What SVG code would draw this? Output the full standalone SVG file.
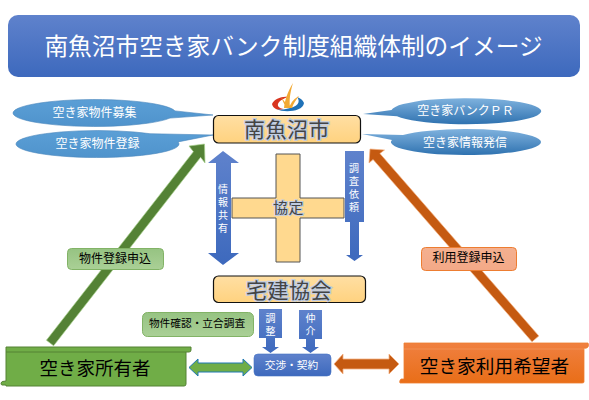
<svg xmlns="http://www.w3.org/2000/svg" width="589" height="400" viewBox="0 0 589 400">
<defs>
<linearGradient id="gB" x1="0" y1="0" x2="0" y2="1"><stop offset="0" stop-color="#5F82CC"/><stop offset="1" stop-color="#3D69BD"/></linearGradient>
<linearGradient id="gE" x1="0" y1="0" x2="0" y2="1"><stop offset="0" stop-color="#5B9FD6"/><stop offset="1" stop-color="#4F93CC"/></linearGradient>
<linearGradient id="gE2" x1="0" y1="0" x2="0" y2="1"><stop offset="0" stop-color="#7FB2DE"/><stop offset="1" stop-color="#2F72B0"/></linearGradient>
<linearGradient id="gY" x1="0" y1="0" x2="0" y2="1"><stop offset="0" stop-color="#FFDFA3"/><stop offset="1" stop-color="#FFD27F"/></linearGradient>
<linearGradient id="gG" x1="0" y1="0" x2="0" y2="1"><stop offset="0" stop-color="#96C382"/><stop offset="1" stop-color="#AAD096"/></linearGradient>
<linearGradient id="gO" x1="0" y1="0" x2="0" y2="1"><stop offset="0" stop-color="#F4B090"/><stop offset="1" stop-color="#F4A987"/></linearGradient>
<linearGradient id="gS" x1="0" y1="0" x2="0" y2="1"><stop offset="0" stop-color="#F08040"/><stop offset="1" stop-color="#E96E18"/></linearGradient>
</defs>
<style>
text{font-family:"Noto Sans CJK JP","Liberation Sans",sans-serif;text-anchor:middle}
.w{fill:#fff}
.k{fill:#000}
.glow{fill:#444;stroke:#C0CCE2;stroke-width:2.5px;paint-order:stroke;font-size:21px;letter-spacing:.5px}
.yb{fill:url(#gY);stroke:#111;stroke-width:1.2}
.e{stroke:#4A86BC;stroke-width:.6}
.bl{fill:url(#gB)}
.v{fill:#fff;font-size:10px;writing-mode:vertical-rl;text-orientation:upright;text-anchor:start;letter-spacing:3px}
</style>

<g id="connectors">
<path id="arrow-owner-city" d="M46.400 340.200 L193.400 151.700 L189 146 L204.500 144 L205 163 L200.600 157.300 L53.600 345.800 Z" fill="#548235" stroke="#A9D18E" stroke-width=".7"/>
<path id="arrow-user-city" d="M538.800 335.900 L379.900 153.500 L384.500 150 L370 149 L369 163 L373.100 159.500 L532 341.800 Z" fill="#C55A11" stroke="#F4B183" stroke-width=".7"/>
<path id="arrow-share" class="bl" d="M223 151 L239 163 H231 V253 H239 L223 265 L208 253 H216 V163 H208 Z"/>
<path id="arrow-survey" class="bl" d="M345 151 H364 V222 H359 V255 H363 L354.500 261 L346 255 H350 V222 H345 Z"/>
<path id="arrow-adjust" class="bl" d="M259 309 H282 V338 H275 V347 H279 L270.500 353 L262 347 H266 V338 H259 Z"/>
<path id="arrow-broker" class="bl" d="M299 310 H322 V339 H315 V347 H319 L310.500 353 L302 347 H306 V339 H299 Z"/>
<path id="arrow-owner-nego" d="M189 367.500 L198 359 V363 H243 V359 L252 367.500 L243 376 V372 H198 V376 Z" fill="#70AD47" stroke="#1F78B4" stroke-width="1"/>
<path id="arrow-user-nego" d="M334 364 L343 354 V359 H389 V354 L399 364 L389 374 V369 H343 V374 Z" fill="#C55A11" stroke="#F4B183" stroke-width=".8"/>
</g>

<g id="title">
<rect x="8" y="15" width="572" height="62" rx="10" fill="url(#gB)"/>
<text class="w" x="293.500" y="55" font-size="23.700">南魚沼市空き家バンク制度組織体制のイメージ</text>
</g>

<g id="logo">
<path d="M272 104 C274 99 282 96 288 97 C282 99 277 102 278 106 C279 108 282 109 284 109 C279 111 273 109 272 104 Z" fill="#D8341F"/>
<path d="M304 103 C303 100 300 98 297 97 C301 102 298 107 286 109 C282 110 279 110 277 109 C283 113 303 112 304 103 Z" fill="#1F72B8"/>
<path d="M284 108 C285 100 287 93 293 83 C290 93 289 100 290 108 Z M286 108 L281 97 L288 106 Z M289 108 C291 102 295 98 299 96 C296 100 293 104 292 108 Z" fill="#F2A933"/>
</g>

<g id="callout-recruit">
<path class="e" fill="url(#gE)" d="M175 110.900 L213 115 L170 118.100 A81.500 13.500 0 1 1 175 110.900 Z"/>
<text class="w" x="94.500" y="117" font-size="12">空き家物件募集</text>
</g>
<g id="callout-register">
<path class="e" fill="url(#gE)" d="M150 133.700 L213 135 L178 141.900 A81.500 13.500 0 1 1 150 133.700 Z"/>
<text class="w" x="97.500" y="148" font-size="12">空き家物件登録</text>
</g>
<g id="callout-pr">
<path fill="url(#gE2)" d="M397 116.200 L363 114 L391.500 110 A75 13 0 1 1 397 116.200 Z"/>
<text class="w" x="465.500" y="115" font-size="12">空き家バンクＰＲ</text>
</g>
<g id="callout-info">
<path fill="url(#gE2)" d="M403 135 L362 134 L392 139.900 A75 13 0 1 0 403 135 Z"/>
<text class="w" x="465" y="147" font-size="12">空き家情報発信</text>
</g>

<g id="city">
<rect class="yb" x="213.500" y="115.500" width="147" height="27.500" rx="5"/>
<text class="glow" x="287" y="137">南魚沼市</text>
</g>

<g id="agreement">
<path d="M276 154 H300 V198 H344 V218 H300 V262 H276 V218 H232 V198 H276 Z" fill="#FFD98F" stroke="#555" stroke-width="1"/>
<text class="glow" x="288.500" y="213" style="font-size:15px;letter-spacing:.5px;stroke-width:2px">協定</text>
</g>

<text class="v" x="223" y="184">情報共有</text>
<text class="v" x="354" y="163">調査依頼</text>

<g id="association">
<rect class="yb" x="213.500" y="276" width="152" height="26.500" rx="5"/>
<text class="glow" x="289" y="298">宅建協会</text>
</g>

<g id="label-owner">
<rect x="67.500" y="248.500" width="96" height="21" rx="4" fill="url(#gG)" stroke="#82B366"/>
<text class="k" x="115" y="263" font-size="12">物件登録申込</text>
</g>
<g id="label-user">
<rect x="421.500" y="247.500" width="95" height="23" rx="4" fill="url(#gO)" stroke="#ED7D31"/>
<text class="k" x="468.500" y="262" font-size="12">利用登録申込</text>
</g>
<g id="label-check">
<rect x="142.500" y="312.500" width="111" height="24" rx="5" fill="url(#gG)" stroke="#82B366"/>
<text class="k" x="197" y="327" font-size="10.700">物件確認・立合調査</text>
</g>

<text class="v" x="270.500" y="313">調整</text>
<text class="v" x="310.500" y="313">仲介</text>

<g id="negotiation">
<rect x="254" y="354" width="77" height="22" rx="4" fill="url(#gB)" stroke="#4472C4" stroke-width=".6"/>
<text class="w" x="291.500" y="368.500" font-size="10.700">交渉・契約</text>
</g>

<g id="owner">
<path d="M6 347 H191 V350 Q191 352 189 352 H186 V384 Q186 386 184 386 H6 V385 H2 Q1 385 1 383 Q1 381 6 381 Z" fill="#70AD47" stroke="#548235" stroke-width="1"/>
<path d="M6 352 H186" fill="none" stroke="#548235" stroke-width="1"/>
<text class="k" x="95" y="375" font-size="18.500">空き家所有者</text>
</g>

<g id="user">
<path d="M404 343 H588 Q589 345 588 347 Q586 349 584 348 V382 Q584 383 582 383 H404 V383 H400 Q399 381 401 379 H404 Z" fill="url(#gS)" stroke="#ED7D31" stroke-width=".8"/>
<path d="M404 349 H584" fill="none" stroke="#F2955A" stroke-width=".8"/>
<text class="k" x="494.500" y="373" font-size="18.700">空き家利用希望者</text>
</g>
</svg>
